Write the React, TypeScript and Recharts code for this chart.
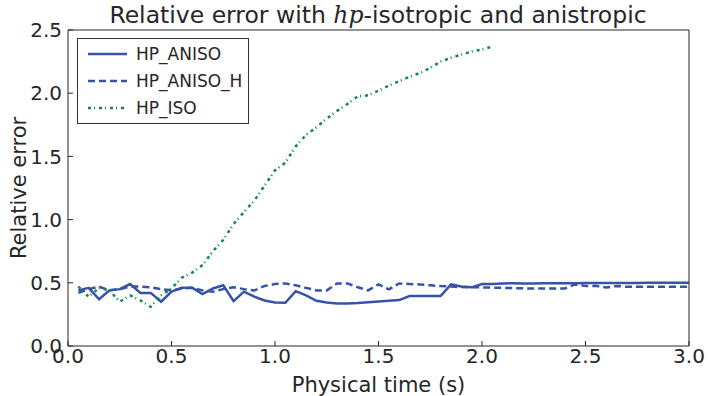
import { LineChart, Line, XAxis, YAxis, Legend } from "recharts";

const times = [
  0.05, 0.1, 0.15, 0.2, 0.25, 0.3, 0.35, 0.4, 0.45, 0.5,
  0.55, 0.6, 0.65, 0.7, 0.75, 0.8, 0.85, 0.9, 0.95, 1.0,
  1.05, 1.1, 1.15, 1.2, 1.25, 1.3, 1.35, 1.4, 1.45, 1.5,
  1.55, 1.6, 1.65, 1.7, 1.75, 1.8, 1.85, 1.9, 1.95, 2.0,
  2.05, 2.1, 2.15, 2.2, 2.25, 2.3, 2.35, 2.4, 2.45, 2.5,
  2.55, 2.6, 2.65, 2.7, 2.75, 2.8, 2.85, 2.9, 2.95, 3.0,
];

const hpAniso = [
  0.44, 0.46, 0.37, 0.44, 0.45, 0.49, 0.42, 0.42, 0.35, 0.43,
  0.46, 0.46, 0.41, 0.455, 0.48, 0.355, 0.43, 0.39, 0.36, 0.345,
  0.342, 0.434, 0.4, 0.358, 0.345, 0.337, 0.337, 0.34, 0.347, 0.352,
  0.358, 0.363, 0.395, 0.395, 0.395, 0.395, 0.487, 0.47, 0.464, 0.49,
  0.49, 0.495, 0.497, 0.495, 0.495, 0.496, 0.496, 0.497, 0.497, 0.498,
  0.498, 0.498, 0.499, 0.499, 0.499, 0.5, 0.5, 0.5, 0.5, 0.5,
];

const hpAnisoH = [
  0.42, 0.45, 0.47, 0.44, 0.45, 0.47, 0.47, 0.465, 0.45, 0.44,
  0.455, 0.46, 0.44, 0.43, 0.45, 0.465, 0.45, 0.44, 0.475, 0.49,
  0.495, 0.48, 0.46, 0.44, 0.44, 0.495, 0.495, 0.465, 0.44, 0.487,
  0.448, 0.495, 0.49, 0.487, 0.48, 0.474, 0.47, 0.466, 0.465, 0.464,
  0.462, 0.46, 0.458, 0.456, 0.455, 0.455, 0.455, 0.455, 0.487, 0.475,
  0.476, 0.462, 0.475, 0.468, 0.468, 0.468, 0.468, 0.468, 0.468, 0.468,
];

const hpIso = [
  0.47, 0.39, 0.46, 0.44, 0.35, 0.4, 0.36, 0.31, 0.4, 0.455,
  0.54, 0.58, 0.64, 0.75, 0.84, 0.965, 1.06, 1.15, 1.27, 1.39,
  1.45, 1.58, 1.67, 1.73, 1.8, 1.86, 1.915, 1.975, 1.983, 2.02,
  2.06, 2.095, 2.13, 2.16, 2.2, 2.25, 2.28, 2.305, 2.33, 2.345,
  2.37,
];

const xTicks = [0, 0.5, 1.0, 1.5, 2.0, 2.5, 3.0];
const yTicks = [0, 0.5, 1.0, 1.5, 2.0, 2.5];

const BLUE = "#3753a8";
const GREEN = "#12884a";
const INK = "#262626";
const FONT = "'DejaVu Sans', sans-serif";

const series = [
  { key: "aniso", name: "HP_ANISO", color: BLUE, dash: undefined, width: 2.5 },
  { key: "anisoH", name: "HP_ANISO_H", color: BLUE, dash: "7 4", width: 2.5 },
  { key: "iso", name: "HP_ISO", color: GREEN, dash: "3 3 1 4", width: 2.5 },
];

const data = times.map((t, i) => ({
  t,
  aniso: hpAniso[i],
  anisoH: hpAnisoH[i],
  iso: i < hpIso.length ? hpIso[i] : null,
}));

const fmt = (v: number) => v.toFixed(1);

const LegendBox = () => (
  <div
    style={{
      position: "relative",
      width: 170,
      height: 84,
      border: "1px solid #333",
      background: "#fff",
      boxSizing: "content-box",
      fontFamily: FONT,
      fontSize: 17,
      color: INK,
    }}
  >
    {series.map((s, i) => (
      <div key={s.key} style={{ position: "absolute", left: 9, top: 3 + i * 27, height: 24, display: "flex", alignItems: "center", whiteSpace: "nowrap" }}>
        <svg width={41} height={10} style={{ marginRight: 8 }}>
          <line x1={1} y1={5} x2={40} y2={5} stroke={s.color} strokeWidth={s.width} strokeDasharray={s.dash} />
        </svg>
        <span>{s.name}</span>
      </div>
    ))}
  </div>
);

export default function App() {
  return (
    <div style={{ position: "absolute", left: 0, top: 0, width: 709, height: 396, background: "#fff" }}>
      <LineChart width={709} height={396} data={data} margin={{ top: 29, right: 19, bottom: 0, left: 0 }}>
        <XAxis
          dataKey="t"
          type="number"
          domain={[0, 3]}
          ticks={xTicks}
          tickFormatter={fmt}
          height={50}
          tickSize={-5}
          tickMargin={8}
          stroke={INK}
          tick={{ fill: INK, fontSize: 20, fontFamily: FONT }}
          label={{ value: "Physical time (s)", position: "insideBottom", offset: 4, fill: INK, fontSize: 21, fontFamily: FONT }}
        />
        <XAxis
          xAxisId="top"
          orientation="top"
          dataKey="t"
          type="number"
          domain={[0, 3]}
          ticks={xTicks}
          height={1}
          tickSize={-5}
          tick={false}
          stroke={INK}
        />
        <YAxis
          type="number"
          domain={[0, 2.5]}
          ticks={yTicks}
          tickFormatter={fmt}
          width={68}
          tickSize={-5}
          tickMargin={11}
          stroke={INK}
          tick={{ fill: INK, fontSize: 20, fontFamily: FONT }}
        />
        <YAxis
          yAxisId="right"
          orientation="right"
          type="number"
          domain={[0, 2.5]}
          ticks={yTicks}
          width={1}
          tickSize={-5}
          tick={false}
          stroke={INK}
        />
        <Legend
          layout="vertical"
          align="center"
          verticalAlign="middle"
          content={<LegendBox />}
          wrapperStyle={{ left: 77, top: 38, width: 172, height: 86 }}
        />
        {series.map((s) => (
          <Line
            key={s.key}
            dataKey={s.key}
            name={s.name}
            stroke={s.color}
            strokeWidth={s.width}
            strokeDasharray={s.dash}
            dot={false}
            isAnimationActive={false}
            type="linear"
          />
        ))}
        <text x={378} y={23} textAnchor="middle" fontSize={23.5} fontFamily={FONT} fill={INK}>
          Relative error with{" "}
          <tspan fontFamily="'DejaVu Serif', serif" fontStyle="italic">hp</tspan>
          -isotropic and anistropic
        </text>
        <text
          x={19}
          y={188}
          textAnchor="middle"
          dominantBaseline="central"
          transform="rotate(-90 19 188)"
          fontSize={21}
          fontFamily={FONT}
          fill={INK}
        >
          Relative error
        </text>
      </LineChart>
    </div>
  );
}
